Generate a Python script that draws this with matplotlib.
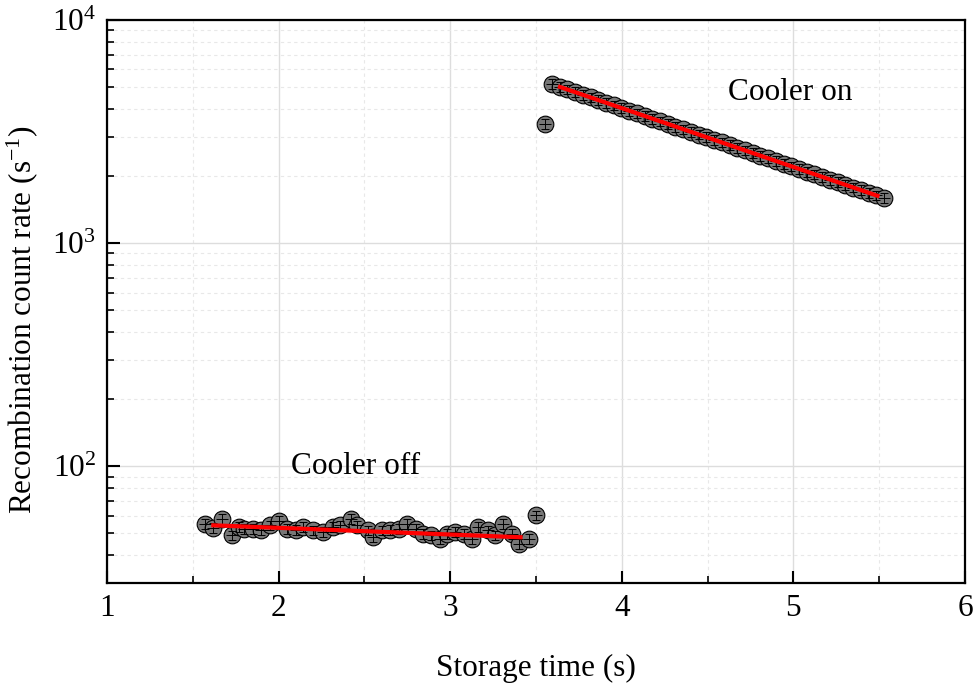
import numpy as np
import matplotlib
matplotlib.use('Agg')
import matplotlib.pyplot as plt
from matplotlib.ticker import LogLocator, MultipleLocator, NullFormatter

plt.rcParams['font.family'] = 'Liberation Serif'
plt.rcParams['mathtext.fontset'] = 'custom'
plt.rcParams['mathtext.rm'] = 'Liberation Serif'
plt.rcParams['mathtext.it'] = 'Liberation Serif:italic'

# Cooler off
t_off = [1.57, 1.62, 1.67, 1.73, 1.77, 1.80, 1.85, 1.90, 1.95, 2.00, 2.05, 2.10,
         2.14, 2.20, 2.26, 2.32, 2.36, 2.42, 2.46, 2.52, 2.55, 2.60, 2.65, 2.70,
         2.75, 2.80, 2.84, 2.89, 2.94, 2.98, 3.03, 3.08, 3.13, 3.16, 3.22, 3.26,
         3.31, 3.36, 3.40, 3.46, 3.50]
r_off = [55.3, 53.1, 58.3, 49.0, 53.4, 52.6, 52.6, 52.0, 54.4, 56.8, 52.6, 52.0,
         53.4, 51.6, 50.7, 53.4, 54.4, 58.3, 54.4, 51.6, 48.2, 51.6, 52.0, 52.6,
         55.3, 52.6, 49.9, 49.0, 47.4, 49.9, 50.7, 49.9, 47.4, 53.4, 51.6, 49.0,
         55.3, 49.9, 45.0, 47.4, 60.3]

# Cooler on
t_on = [3.550, 3.593, 3.638, 3.683, 3.728, 3.773, 3.818, 3.863, 3.908, 3.953, 3.998,
        4.043, 4.088, 4.133, 4.178, 4.223, 4.268, 4.313, 4.358, 4.403, 4.448,
        4.493, 4.538, 4.583, 4.628, 4.673, 4.718, 4.763, 4.808, 4.853, 4.898,
        4.943, 4.988, 5.033, 5.078, 5.123, 5.168, 5.213, 5.258, 5.303, 5.348,
        5.393, 5.438, 5.483, 5.528]
r_on = [3420, 5157, 5018, 4883, 4751, 4623, 4498, 4377, 4259, 4144, 4032,
        3923, 3817, 3714, 3614, 3516, 3421, 3329, 3239, 3152, 3067,
        2984, 2903, 2825, 2749, 2675, 2603, 2533, 2465, 2398, 2333,
        2270, 2209, 2149, 2091, 2035, 1980, 1927, 1875, 1824, 1775,
        1727, 1680, 1635, 1591]

# Fits
fit_off_t = [1.62, 3.41]
fit_off_r = [54.4, 48.1]
fit_on_t = [3.64, 5.49]
fit_on_r = [5010, 1630]

fs = 22.5

fig = plt.figure(figsize=(9.75, 6.91), dpi=100)
ax = fig.add_axes([0.1097, 0.1563, 0.8800, 0.8148])

for t, r in [(t_off, r_off), (t_on, r_on)]:
    t = np.array(t)
    r = np.array(r)
    ax.plot(t, r, 'o', ms=12, mfc='#777777', mec='black', mew=0.8, zorder=3)
    ax.errorbar(t, r, yerr=0.05 * r, fmt='none', ecolor='black', elinewidth=0.7,
                capsize=3, capthick=0.7, zorder=4)
    ax.errorbar(t, r, xerr=0.035, fmt='none', ecolor='black', elinewidth=0.7,
                capsize=0, zorder=4)

ax.plot(fit_off_t, fit_off_r, color='red', lw=3, zorder=5)
ax.plot(fit_on_t, fit_on_r, color='red', lw=3, zorder=5)

ax.set_yscale('log')
ax.set_xlim(1, 6)
ax.set_ylim(30, 1e4)
ax.xaxis.set_major_locator(MultipleLocator(1))
ax.xaxis.set_minor_locator(MultipleLocator(0.5))
ax.yaxis.set_major_locator(LogLocator(base=10, numticks=10))
ax.yaxis.set_minor_locator(LogLocator(base=10, subs=np.arange(2, 10), numticks=20))
ax.yaxis.set_minor_formatter(NullFormatter())

ax.grid(which='major', color='#dddddd', lw=1, ls='-', zorder=0)
ax.grid(which='minor', color='#e8e8e8', lw=0.8, ls=(0, (3, 3)), zorder=0)
ax.set_axisbelow(True)

ax.tick_params(which='major', direction='in', length=9, width=1.5, labelsize=fs, pad=8)
ax.tick_params(which='minor', direction='in', length=5, width=1.2)
for s in ax.spines.values():
    s.set_linewidth(1.6)

ax.text(4.62, 4750, 'Cooler on', fontsize=fs, ha='left', va='center')
ax.text(2.07, 100, 'Cooler off', fontsize=fs, ha='left', va='center')

ax.set_xlabel('Storage time (s)', fontsize=fs, labelpad=22)
ax.set_ylabel('Recombination count rate (s$^{-1}$)', fontsize=fs)
ax.yaxis.set_label_coords(-0.078, 0.467)

fig.savefig('out.png', dpi=100)
